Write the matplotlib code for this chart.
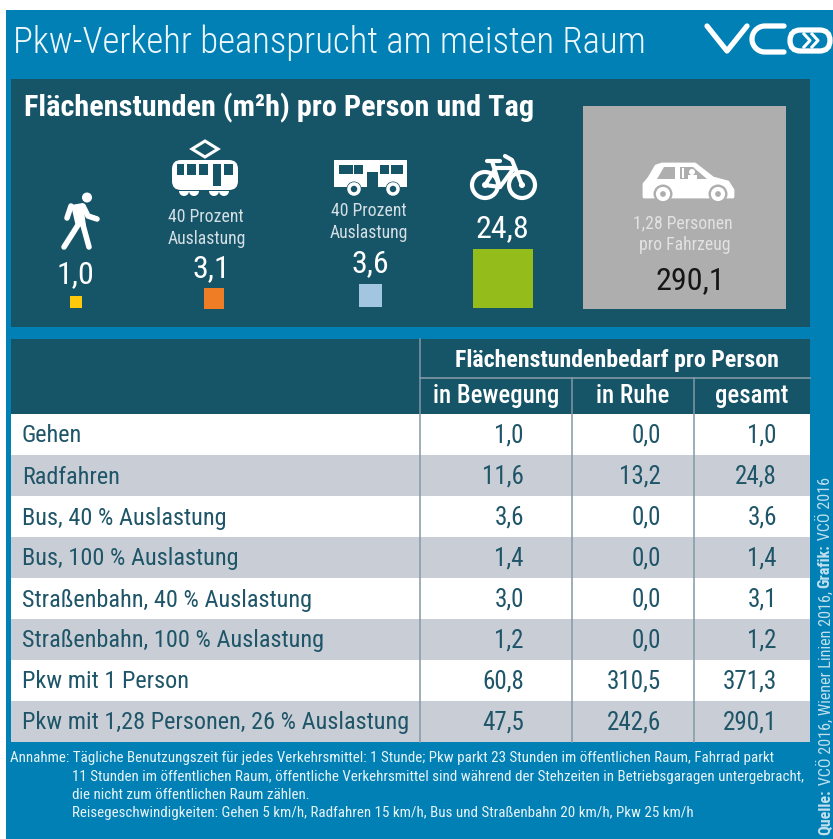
import matplotlib
matplotlib.use("Agg")
import matplotlib.pyplot as plt
import numpy as np
from matplotlib.patches import Circle, FancyBboxPatch, Polygon, Rectangle, Wedge

plt.rcParams["font.family"] = ["Roboto Condensed", "Archivo Narrow", "Liberation Sans", "DejaVu Sans"]

title = "Pkw-Verkehr beansprucht am meisten Raum"
subtitle = "Flächenstunden (m²h) pro Person und Tag"

modes_values = [1.0, 3.1, 3.6, 24.8, 290.1]
modes_labels = ["1,0", "3,1", "3,6", "24,8", "290,1"]
modes_colors = ["#fdc90a", "#ee7d26", "#a3c6e0", "#94bd1c", "#aeaeae"]

group_header = "Flächenstundenbedarf pro Person"
col_headers = ["in Bewegung", "in Ruhe", "gesamt"]
row_names = [
    "Gehen",
    "Radfahren",
    "Bus, 40 % Auslastung",
    "Bus, 100 % Auslastung",
    "Straßenbahn, 40 % Auslastung",
    "Straßenbahn, 100 % Auslastung",
    "Pkw mit 1 Person",
    "Pkw mit 1,28 Personen, 26 % Auslastung",
]
in_bewegung = ["1,0", "11,6", "3,6", "1,4", "3,0", "1,2", "60,8", "47,5"]
in_ruhe = ["0,0", "13,2", "0,0", "0,0", "0,0", "0,0", "310,5", "242,6"]
gesamt = ["1,0", "24,8", "3,6", "1,4", "3,1", "1,2", "371,3", "290,1"]

note_lines = [
    "Annahme: Tägliche Benutzungszeit für jedes Verkehrsmittel: 1 Stunde; Pkw parkt 23 Stunden im öffentlichen Raum, Fahrrad parkt",
    "11 Stunden im öffentlichen Raum, öffentliche Verkehrsmittel sind während der Stehzeiten in Betriebsgaragen untergebracht,",
    "die nicht zum öffentlichen Raum zählen.",
    "Reisegeschwindigkeiten: Gehen 5 km/h, Radfahren 15 km/h, Bus und Straßenbahn 20 km/h, Pkw 25 km/h",
]
credit_parts = [("Quelle:", "bold"), (" VCÖ 2016, Wiener Linien 2016, ", "normal"), ("Grafik:", "bold"), (" VCÖ 2016", "normal")]

BLUE = "#0080b4"
DARK = "#165468"
WHITE = "#ffffff"
GREY_ROW = "#c9ced6"
INK = "#1f5568"
RULE = "#8299a6"
CAR_BG = modes_colors[4]

fig = plt.figure(figsize=(8.33, 8.39), dpi=100)
ax = fig.add_axes([0, 0, 1, 1])
ax.set_xlim(0, 833)
ax.set_ylim(839, 0)
ax.axis("off")


def rect(x0, y0, x1, y1, color, z=1):
    ax.add_patch(Rectangle((x0, y0), x1 - x0, y1 - y0, fc=color, ec="none", zorder=z))


def label(x, y, s, color=WHITE, size=18, weight="normal", ha="center"):
    ax.text(x, y, s, color=color, fontsize=size, fontweight=weight, ha=ha, va="baseline", zorder=3)


def walker():
    ax.add_patch(Circle((87, 197.5), 5, fc=WHITE, ec="none", zorder=3))
    ax.add_patch(Polygon([(71, 205), (83, 203), (86, 226), (76, 227)], fc=WHITE, ec="none", zorder=3))
    for seg in [[(78, 225), (64, 247)], [(83, 225), (89, 247)], [(71, 206), (67, 218)], [(83, 206), (88, 216), (97, 219)]]:
        pts = np.array(seg)
        ax.plot(pts[:, 0], pts[:, 1], color=WHITE, lw=4, solid_capstyle="round", zorder=3)


def tram():
    ax.add_patch(Polygon([(205, 141), (218, 149), (205, 157), (192, 149)], fc="none", ec=WHITE, lw=2.2, zorder=3))
    ax.add_patch(FancyBboxPatch((172, 160), 66, 30, boxstyle="round,pad=0,rounding_size=9", fc=WHITE, ec="none", zorder=3))
    for x0, x1 in [(177, 184), (187, 196), (199, 208), (224, 233)]:
        rect(x0, 164, x1, 175, DARK, 4)
    rect(213, 164, 221, 186, DARK, 4)
    for x in [184, 194, 214, 224]:
        ax.add_patch(Wedge((x, 191), 5, 0, 180, fc=WHITE, ec="none", zorder=3))


def bus():
    rect(334, 160, 407, 187, WHITE, 3)
    for x0, x1 in [(339, 353), (354, 363), (380, 389), (391, 403)]:
        rect(x0, 165, x1, 174, DARK, 4)
    rect(367, 172, 378, 187, DARK, 4)
    for x in [354, 393]:
        ax.add_patch(Circle((x, 189), 7.5, fc=DARK, ec="none", zorder=4))
        ax.add_patch(Circle((x, 189), 5, fc=DARK, ec=WHITE, lw=2.5, zorder=5))


def bike():
    for x in [485, 522]:
        ax.add_patch(Circle((x, 185), 13, fc="none", ec=WHITE, lw=3, zorder=3))
        ax.add_patch(Circle((x, 185), 3, fc=WHITE, ec="none", zorder=3))
    frame = [[(485, 185), (496, 168), (514, 168), (500, 187), (485, 185)], [(492, 161), (500, 187)], [(487, 161), (500, 161)],
             [(522, 185), (512, 160), (505, 156)]]
    for seg in frame:
        pts = np.array(seg)
        ax.plot(pts[:, 0], pts[:, 1], color=WHITE, lw=3, solid_capstyle="round", solid_joinstyle="round", zorder=3)


def car():
    body = [(644, 197), (644, 184), (649, 178), (656, 166), (662, 164), (695, 164), (713, 178), (728, 182), (733, 190), (733, 197)]
    ax.add_patch(Polygon(body, fc=WHITE, ec=WHITE, lw=2, joinstyle="round", zorder=3))
    ax.add_patch(Polygon([(657, 179), (664, 167), (675, 167), (675, 179)], fc=CAR_BG, ec="none", zorder=4))
    ax.add_patch(Polygon([(680, 167), (693, 167), (707, 179), (680, 179)], fc=CAR_BG, ec="none", zorder=4))
    ax.add_patch(Circle((692, 172), 3, fc=WHITE, ec="none", zorder=5))
    rect(688, 175, 697, 179, WHITE, 5)
    rect(682, 168, 684, 178, WHITE, 5)
    for x in [663, 718]:
        ax.add_patch(Circle((x, 194), 9.5, fc=CAR_BG, ec="none", zorder=5))
        ax.add_patch(Circle((x, 194), 5, fc=CAR_BG, ec=WHITE, lw=3, zorder=6))


def logo():
    kw = dict(color=WHITE, lw=3.8, solid_capstyle="round", solid_joinstyle="round", zorder=3)
    ax.plot([707, 727, 747], [26, 51, 26], **kw)
    t = np.linspace(np.pi / 2, 3 * np.pi / 2, 30)
    ax.plot(np.r_[784, 765 + 13 * np.cos(t), 784], np.r_[26, 39 - 13 * np.sin(t), 52], **kw)
    ax.add_patch(FancyBboxPatch((790, 30), 40, 21, boxstyle="round,pad=0,rounding_size=10.5", fc="none", ec=WHITE, lw=3.8, zorder=3))
    for x0 in [804, 812]:
        ax.plot([x0, x0 + 6, x0], [34, 40.5, 47], color=WHITE, lw=2.2, zorder=3)


# backgrounds
rect(6, 10, 833, 839, BLUE, 0)
rect(11, 79, 810, 327, DARK)
label(13, 53, title, color="#eef7fb", size=26.6, weight=300, ha="left")
logo()
label(24, 116, subtitle, size=21.8, weight=600, ha="left")

# squares, area follows the value
side_per_root = 11.9
square_cx = [76, 214, 370.5, 503, 684.5]
square_bottom = [308, 309, 307, 308, 309]
for val, col, sx, sb in zip(modes_values, modes_colors, square_cx, square_bottom):
    side = side_per_root * np.sqrt(val)
    rect(sx - side / 2, sb - side, sx + side / 2, sb, col, 2)

walker()
tram()
bus()
bike()
car()

label(75, 283, modes_labels[0], size=23)
label(211, 277, modes_labels[1], size=23)
label(370, 272.5, modes_labels[2], size=23)
label(502, 237, modes_labels[3], size=23)
label(690, 289, modes_labels[4], color="#161616", size=23)

label(206, 222.5, "40 Prozent", color="#d3dfe4", size=12.7)
label(207, 244, "Auslastung", color="#d3dfe4", size=12.7)
label(369, 216, "40 Prozent", color="#d3dfe4", size=12.7)
label(369, 237.5, "Auslastung", color="#d3dfe4", size=12.7)
label(683, 228.5, "1,28 Personen", color="#e2e2e2", size=12.7)
label(685, 250, "pro Fahrzeug", color="#e2e2e2", size=12.7)

# table
rect(11, 339, 810, 414, DARK)
label(617, 367, group_header, size=17.2, weight=600)
col_centers = [496, 633, 752]
for name, cx in zip(col_headers, col_centers):
    label(cx, 403, name, size=17.8, weight=500)
ax.plot([420, 810], [377.5, 377.5], color=RULE, lw=1.2, zorder=3)

top = 414
row_h = 41
for i, name in enumerate(row_names):
    y0 = top + i * row_h
    rect(11, y0, 810, y0 + row_h, WHITE if i % 2 == 0 else GREY_ROW)
    base = y0 + row_h / 2 + 8
    label(22, base, name, color=INK, size=17.5, ha="left")
    for vals, right in zip([in_bewegung, in_ruhe, gesamt], [524, 661, 777]):
        label(right, base, vals[i], color=INK, size=18, ha="right")
for x in [420, 572, 694]:
    y_start = 339 if x == 420 else 378
    ax.plot([x, x], [y_start, top + 8 * row_h], color=RULE, lw=1.1, zorder=3)

# notes
note_y = [762, 781, 799, 817]
note_x = [10, 72, 72, 72]
for line, x, y in zip(note_lines, note_x, note_y):
    label(x, y, line, color="#e8f3f8", size=10.8, ha="left")

# rotated credit line, pieces stacked upward from the bottom
renderer = fig.canvas.get_renderer()
y = 835
for part, weight in credit_parts:
    t = ax.text(825, y, part, color="#bfe0ee", fontsize=11.6, fontweight=weight, rotation=90,
                ha="center", va="bottom", zorder=3)
    y -= t.get_window_extent(renderer).height

fig.savefig("out.png", dpi=100, facecolor="white")
